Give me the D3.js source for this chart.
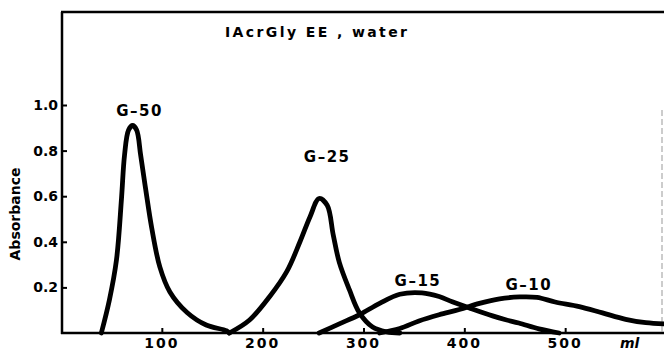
<!DOCTYPE html>
<html>
<head>
<meta charset="utf-8">
<script src="https://cdn.jsdelivr.net/npm/d3@7"></script>
<style>
  body { margin: 0; background: #fff; }
  text { font-family: "DejaVu Sans", sans-serif; fill: #000; }
</style>
</head>
<body>
<figure id="chart" style="margin:0"></figure>
<script>
// elution volume (ml) and absorbance for each gel
const g50Volume = [40, 48, 55, 60, 63, 67, 71, 75, 79, 84, 90, 98, 108, 125, 144, 164, 167];
const g50Abs = [0, 0.145, 0.32, 0.59, 0.78, 0.89, 0.91, 0.89, 0.78, 0.63, 0.46, 0.29, 0.18, 0.09, 0.035, 0.01, 0];

const g25Volume = [167, 187, 207, 224, 237, 247, 256, 264, 270, 276, 286, 296, 309, 323, 336];
const g25Abs = [0, 0.057, 0.16, 0.27, 0.4, 0.51, 0.59, 0.56, 0.43, 0.31, 0.19, 0.088, 0.026, 0.005, 0];

const g15Volume = [256, 276, 296, 316, 336, 358, 375, 388, 405, 428, 441, 454, 474, 494];
const g15Abs = [0, 0.04, 0.08, 0.13, 0.17, 0.176, 0.16, 0.137, 0.11, 0.075, 0.058, 0.044, 0.018, 0];

const g10Volume = [316, 336, 355, 375, 395, 415, 435, 455, 472, 490, 514, 537, 560, 580, 598];
const g10Abs = [0, 0.02, 0.053, 0.08, 0.103, 0.13, 0.15, 0.158, 0.156, 0.136, 0.116, 0.088, 0.06, 0.045, 0.04];

const gels = ["G-50", "G-25", "G-15", "G-10"];
const xTicks = [100, 200, 300, 400, 500];
const yTicks = [0.2, 0.4, 0.6, 0.8, 1.0];
const yTickLabels = ["0.2", "0.4", "0.6", "0.8", "1.0"];

const width = 664;
const height = 352;

const svg = d3.select("#chart")
  .append("svg")
  .attr("width", width)
  .attr("height", height);

const x = d3.scaleLinear().domain([0, 600]).range([61, 666]);
const y = d3.scaleLinear().domain([0, 1]).range([333, 105]);

// frame: left axis, bottom axis, top border
svg.append("line")
  .attr("x1", 62).attr("x2", 62).attr("y1", 12).attr("y2", 334)
  .attr("stroke", "#000").attr("stroke-width", 2.5);
svg.append("line")
  .attr("x1", 61).attr("x2", 664).attr("y1", 333).attr("y2", 333)
  .attr("stroke", "#000").attr("stroke-width", 2.5);
svg.append("line")
  .attr("x1", 61).attr("x2", 664).attr("y1", 12).attr("y2", 12)
  .attr("stroke", "#000").attr("stroke-width", 2.5);
svg.append("line")
  .attr("x1", 662).attr("x2", 662).attr("y1", 110).attr("y2", 333)
  .attr("stroke", "#999").attr("stroke-width", 1)
  .attr("stroke-dasharray", "6,3");

// y ticks point inward
const yAxis = d3.axisRight(y)
  .tickValues(yTicks)
  .tickSize(5)
  .tickFormat("");
svg.append("g")
  .attr("transform", "translate(62,0)")
  .call(yAxis)
  .call(g => g.select(".domain").remove())
  .call(g => g.selectAll("line").attr("stroke-width", 2));

svg.selectAll(".ylab")
  .data(yTicks)
  .enter()
  .append("text")
  .attr("class", "ylab")
  .attr("x", 58)
  .attr("y", d => y(d) + 5)
  .attr("text-anchor", "end")
  .style("font-size", "14px")
  .style("font-weight", "bold")
  .text((d, i) => yTickLabels[i]);

// x ticks point upward
const xAxis = d3.axisTop(x)
  .tickValues(xTicks)
  .tickSize(5)
  .tickFormat("");
svg.append("g")
  .attr("transform", "translate(0,333)")
  .call(xAxis)
  .call(g => g.select(".domain").remove())
  .call(g => g.selectAll("line").attr("stroke-width", 2));

svg.selectAll(".xlab")
  .data(xTicks)
  .enter()
  .append("text")
  .attr("class", "xlab")
  .attr("x", d => x(d))
  .attr("y", 348)
  .attr("text-anchor", "middle")
  .style("font-size", "14px")
  .style("font-weight", "bold")
  .style("letter-spacing", "2px")
  .text(d => d);

svg.append("text")
  .attr("x", 620)
  .attr("y", 348)
  .style("font-size", "14px")
  .style("font-weight", "bold")
  .style("font-style", "italic")
  .text("ml");

svg.append("text")
  .attr("transform", "translate(20,214) rotate(-90)")
  .attr("text-anchor", "middle")
  .style("font-size", "14px")
  .style("font-weight", "bold")
  .text("Absorbance");

svg.append("text")
  .attr("x", 225)
  .attr("y", 37)
  .style("font-size", "14px")
  .style("letter-spacing", "2.4px")
  .style("font-weight", "bold")
  .text("IAcrGly EE , water");

// elution curves
const series = [
  { name: gels[0], vol: g50Volume, abs: g50Abs, lx: 78, ly: 0.95 },
  { name: gels[1], vol: g25Volume, abs: g25Abs, lx: 264, ly: 0.749 },
  { name: gels[2], vol: g15Volume, abs: g15Abs, lx: 354, ly: 0.208 },
  { name: gels[3], vol: g10Volume, abs: g10Abs, lx: 464, ly: 0.19 }
];

const line = d3.line()
  .x(d => x(d[0]))
  .y(d => y(d[1]))
  .curve(d3.curveCatmullRom.alpha(0.5));

svg.selectAll(".curve")
  .data(series)
  .enter()
  .append("path")
  .attr("class", "curve")
  .attr("d", s => line(s.vol.map((v, i) => [v, s.abs[i]])))
  .attr("fill", "none")
  .attr("stroke", "#000")
  .attr("stroke-width", 4.8)
  .attr("stroke-linejoin", "round")
  .attr("stroke-linecap", "round");

svg.selectAll(".glab")
  .data(series)
  .enter()
  .append("text")
  .attr("class", "glab")
  .attr("x", s => x(s.lx))
  .attr("y", s => y(s.ly))
  .attr("text-anchor", "middle")
  .style("font-size", "15px")
  .style("font-weight", "bold")
  .style("letter-spacing", "1.5px")
  .text(s => s.name.replace("-", "\u2013"));
</script>
</body>
</html>
